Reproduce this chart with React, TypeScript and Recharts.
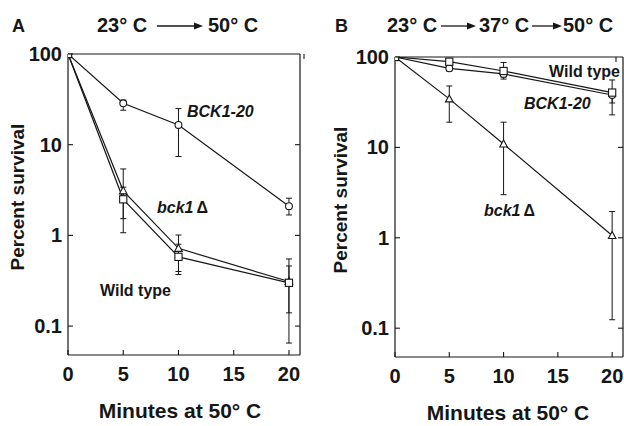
import React from "react";
import { LineChart, Line, XAxis, YAxis, ErrorBar } from "recharts";

const minutes = [0, 5, 10, 20];
const xTicks = [0, 5, 10, 15, 20];
const yTicks = [0.1, 1, 10, 100];

// Panel A: 23°C -> 50°C
const aWildType = [100, 2.5, 0.58, 0.3];
const aWildTypeLow = [null, 1.07, 0.37, 0.065];
const aWildTypeHigh = [null, 3.4, 0.8, 0.55];
const aBck1 = [100, 3.1, 0.72, 0.31];
const aBck1Low = [null, 1.53, 0.4, 0.14];
const aBck1High = [null, 5.4, 1.01, 0.46];
const aBck120 = [100, 28.6, 16.5, 2.1];
const aBck120Low = [null, 24, 7.4, 1.68];
const aBck120High = [null, 31, 25, 2.57];

// Panel B: 23°C -> 37°C -> 50°C
const bWildType = [100, 88.7, 70, 40.4];
const bWildTypeLow = [null, 82, 57, 22.9];
const bWildTypeHigh = [null, 95, 87, 55.7];
const bBck120 = [100, 75, 65, 38];
const bBck120Low = [null, 70, 60, 31];
const bBck120High = [null, 80, 72, 43];
const bBck1 = [100, 34.4, 10.9, 1.06];
const bBck1Low = [null, 19, 3.0, 0.124];
const bBck1High = [null, 47.8, 19, 1.95];

const INK = "#161616";
const FONT = "'Liberation Sans', Arial, Helvetica, sans-serif";

function err(v: number[], lo: (number | null)[], hi: (number | null)[], i: number) {
  if (lo[i] == null || hi[i] == null) return null;
  return [v[i] - (lo[i] as number), (hi[i] as number) - v[i]];
}

const dataA = minutes.map((m, i) => ({
  min: m,
  wt: aWildType[i],
  wtErr: err(aWildType, aWildTypeLow, aWildTypeHigh, i),
  del: aBck1[i],
  delErr: err(aBck1, aBck1Low, aBck1High, i),
  dom: aBck120[i],
  domErr: err(aBck120, aBck120Low, aBck120High, i),
}));

const dataB = minutes.map((m, i) => ({
  min: m,
  wt: bWildType[i],
  wtErr: err(bWildType, bWildTypeLow, bWildTypeHigh, i),
  del: bBck1[i],
  delErr: err(bBck1, bBck1Low, bBck1High, i),
  dom: bBck120[i],
  domErr: err(bBck120, bBck120Low, bBck120High, i),
}));

const CircleDot = (p: any) => (
  <circle key={`c${p.index}`} cx={p.cx} cy={p.cy} r={3.4} fill="#fff" stroke={INK} strokeWidth={1.1} />
);
const SquareDot = (p: any) => (
  <rect key={`s${p.index}`} x={p.cx - 3.6} y={p.cy - 3.6} width={7.2} height={7.2} fill="#fff" stroke={INK} strokeWidth={1.1} />
);
const TriangleDot = (p: any) => (
  <polygon
    key={`t${p.index}`}
    points={`${p.cx},${p.cy - 4} ${p.cx - 3.8},${p.cy + 3} ${p.cx + 3.8},${p.cy + 3}`}
    fill="#fff"
    stroke={INK}
    strokeWidth={1.1}
  />
);

const fmtY = (v: number) => (v < 1 ? "0.1" : String(v));

const LeftTick = (p: any) => (
  <g>
    <line x1={p.x} y1={p.y} x2={p.x + 5} y2={p.y} stroke={INK} strokeWidth={1.1} />
    <text x={p.x - 6} y={p.y + 7} textAnchor="end" fontFamily={FONT} fontWeight="bold" fontSize={20} fill={INK}>
      {fmtY(p.payload.value)}
    </text>
  </g>
);
const RightTick = (p: any) => (
  <line x1={p.x} y1={p.y} x2={p.x - 5} y2={p.y} stroke={INK} strokeWidth={1.1} />
);
const BottomTick = (p: any) => (
  <g>
    <line x1={p.x} y1={p.y} x2={p.x} y2={p.y - 5} stroke={INK} strokeWidth={1.1} />
    <text x={p.x} y={p.y + 26} textAnchor="middle" fontFamily={FONT} fontWeight="bold" fontSize={20} fill={INK}>
      {p.payload.value}
    </text>
  </g>
);
const TopTick = (p: any) => (
  <line x1={p.x} y1={p.y} x2={p.x} y2={p.y + 5} stroke={INK} strokeWidth={1.1} />
);

// plot box edges are set through margins + 1px top / right axes + 30px bottom axis
function Panel({ data, left, top, bottom, right, yWidth }: any) {
  const lineProps = { type: "linear" as const, stroke: INK, strokeWidth: 1.2, isAnimationActive: false };
  const barProps = { stroke: INK, strokeWidth: 1, width: 3, direction: "y" as const };
  return (
    <div style={{ position: "absolute", left, top: 0 }}>
      <LineChart width={312} height={426} data={data} margin={{ top: top - 1, right: right - 1, bottom: bottom - 30, left: 0 }}>
        <XAxis
          dataKey="min"
          type="number"
          domain={[0, 21]}
          ticks={xTicks}
          allowDataOverflow
          height={30}
          tickSize={0}
          tickMargin={0}
          tick={BottomTick}
          stroke={INK}
          strokeWidth={1.2}
        />
        <XAxis
          xAxisId="top"
          orientation="top"
          type="number"
          domain={[0, 21]}
          ticks={[5, 10, 15, 20]}
          allowDataOverflow
          height={1}
          tickSize={0}
          tickMargin={0}
          tick={TopTick}
          stroke={INK}
          strokeWidth={1.2}
        />
        <YAxis
          scale="log"
          type="number"
          domain={[0.048, 100]}
          ticks={yTicks}
          allowDataOverflow
          width={yWidth}
          tickSize={0}
          tickMargin={0}
          tick={LeftTick}
          stroke={INK}
          strokeWidth={1.2}
        />
        <YAxis
          yAxisId="right"
          orientation="right"
          scale="log"
          type="number"
          domain={[0.048, 100]}
          ticks={[0.1, 1, 10]}
          allowDataOverflow
          width={1}
          tickSize={0}
          tickMargin={0}
          tick={RightTick}
          stroke={INK}
          strokeWidth={1.2}
        />
        <Line dataKey="dom" {...lineProps} dot={CircleDot}>
          <ErrorBar dataKey="domErr" {...barProps} />
        </Line>
        <Line dataKey="del" {...lineProps} dot={TriangleDot}>
          <ErrorBar dataKey="delErr" {...barProps} />
        </Line>
        <Line dataKey="wt" {...lineProps} dot={SquareDot}>
          <ErrorBar dataKey="wtErr" {...barProps} />
        </Line>
      </LineChart>
    </div>
  );
}

function Arrow({ x1, x2, y }: { x1: number; x2: number; y: number }) {
  return (
    <g>
      <line x1={x1} y1={y} x2={x2 - 7} y2={y} stroke={INK} strokeWidth={1.3} />
      <polygon points={`${x2},${y} ${x2 - 9},${y - 3.5} ${x2 - 9},${y + 3.5}`} fill={INK} />
    </g>
  );
}

const txt = { fontFamily: FONT, fontWeight: "bold" as const, fill: INK };

export default function App() {
  return (
    <div style={{ position: "absolute", left: 0, top: 0, width: 624, height: 426, background: "#fff", overflow: "hidden" }}>
      <Panel data={dataA} left={0} top={54} bottom={71} right={12} yWidth={68} />
      <Panel data={dataB} left={312} top={57} bottom={69} right={1} yWidth={83} />
      <svg width={624} height={426} style={{ position: "absolute", left: 0, top: 0, pointerEvents: "none" }}>
        {/* panel A headings */}
        <text x={12} y={32} fontSize={18} {...txt}>A</text>
        <text x={97} y={32} fontSize={20} {...txt}>23° C</text>
        <Arrow x1={157} x2={203} y={26} />
        <text x={208} y={32} fontSize={20} {...txt}>50° C</text>
        <text x={180} y={418} fontSize={21} textAnchor="middle" {...txt}>Minutes at 50° C</text>
        <text x={0} y={0} fontSize={19} textAnchor="middle" transform="translate(24,197) rotate(-90)" {...txt}>
          Percent survival
        </text>
        <text x={187} y={117} fontSize={16} fontStyle="italic" {...txt}>BCK1-20</text>
        <text x={157} y={213} fontSize={16} {...txt}>
          <tspan fontStyle="italic">bck1</tspan>
          <tspan dx={3}>Δ</tspan>
        </text>
        <text x={100} y={296} fontSize={16} {...txt}>Wild type</text>

        {/* panel B headings */}
        <text x={335} y={32} fontSize={18} {...txt}>B</text>
        <text x={387} y={32} fontSize={20} {...txt}>23° C</text>
        <Arrow x1={441} x2={476} y={26} />
        <text x={479} y={32} fontSize={20} {...txt}>37° C</text>
        <Arrow x1={532} x2={562} y={26} />
        <text x={563} y={32} fontSize={20} {...txt}>50° C</text>
        <text x={508} y={420} fontSize={21} textAnchor="middle" {...txt}>Minutes at 50° C</text>
        <text x={0} y={0} fontSize={19} textAnchor="middle" transform="translate(347,200) rotate(-90)" {...txt}>
          Percent survival
        </text>
        <text x={620} y={77} fontSize={16} textAnchor="end" {...txt}>Wild type</text>
        <text x={524} y={109} fontSize={16} fontStyle="italic" {...txt}>BCK1-20</text>
        <text x={484} y={216} fontSize={16} {...txt}>
          <tspan fontStyle="italic">bck1</tspan>
          <tspan dx={3}>Δ</tspan>
        </text>
      </svg>
    </div>
  );
}
